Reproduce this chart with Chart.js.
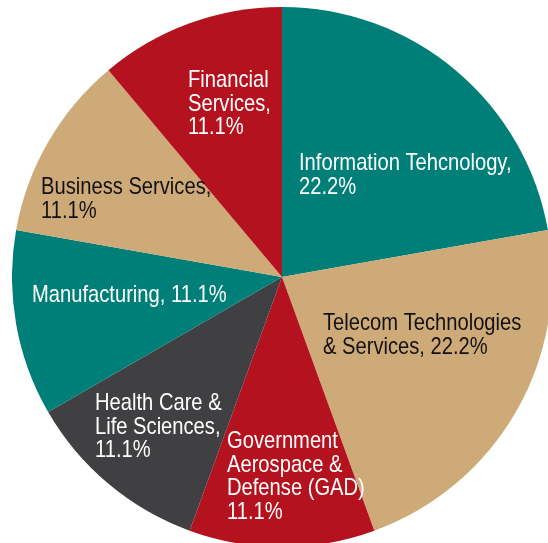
<!DOCTYPE html>
<html>
<head>
<meta charset="utf-8">
<script src="https://cdn.jsdelivr.net/npm/chart.js@4.4.0/dist/chart.umd.min.js"></script>
<style>
  html, body { margin: 0; padding: 0; background: #fff; overflow: hidden; }
  #wrap { position: absolute; left: 12px; top: 7px; width: 540px; height: 540px; }
</style>
</head>
<body>
<div id="wrap"><canvas id="sector-pie"></canvas></div>
<script>
// Chart data
var sectors = ["Information Tehcnology", "Telecom Technologies & Services", "Government Aerospace & Defense (GAD)",
               "Health Care & Life Sciences", "Manufacturing", "Business Services", "Financial Services"];
var shares = [22.2, 22.2, 11.1, 11.1, 11.1, 11.1, 11.1];
var sliceColors = ['#007F78', '#CFAA79', '#B3121E', '#404042', '#007F78', '#CFAA79', '#B3121E'];

// label text as drawn (one entry per line) and where it sits, relative to the pie centre
var labelLines = [
    ["Information Tehcnology,", "22.2%"],
    ["Telecom Technologies", "& Services, 22.2%"],
    ["Government", "Aerospace &", "Defense (GAD)", "11.1%"],
    ["Health Care &", "Life Sciences,", "11.1%"],
    ["Manufacturing, 11.1%"],
    ["Business Services,", "11.1%"],
    ["Financial", "Services,", "11.1%"]
];
var labelOffsets = [[17, -107], [41, 53], [-55, 171], [-187, 133], [-250, 25], [-241, -83], [-94, -190]];
var labelInk = ['#fff', '#111', '#fff', '#fff', '#fff', '#111', '#fff'];

// no narrow face installed, so squeeze Liberation Sans the way Arial Narrow is
const squeeze = 0.84;

const sliceLabels = {
    id: 'sliceLabels',
    afterDatasetsDraw(chart) {
        const ctx = chart.ctx;
        const arc = chart.getDatasetMeta(0).data[0];
        const cx = arc.x, cy = arc.y, k = arc.outerRadius / 270;
        ctx.save();
        ctx.font = '24px "Liberation Sans", Arial, sans-serif';
        ctx.textAlign = 'left';
        ctx.textBaseline = 'alphabetic';
        labelLines.forEach((lines, i) => {
            ctx.fillStyle = labelInk[i];
            lines.forEach((t, j) => {
                const x = cx + labelOffsets[i][0] * k;
                const y = cy + labelOffsets[i][1] * k + j * 23.5;
                ctx.save();
                ctx.translate(x, y);
                ctx.scale(squeeze, 1);
                ctx.fillText(t, 0, 0);
                ctx.restore();
            });
        });
        ctx.restore();
    }
};

new Chart(document.getElementById('sector-pie'), {
    type: 'pie',
    data: {
        labels: sectors,
        datasets: [{
            data: shares,
            backgroundColor: sliceColors,
            borderWidth: 0
        }]
    },
    options: {
        responsive: true,
        maintainAspectRatio: false,
        animation: false,
        layout: { padding: 0 },
        plugins: {
            legend: { display: false },
            tooltip: { enabled: false }
        }
    },
    plugins: [sliceLabels]
});
</script>
</body>
</html>
